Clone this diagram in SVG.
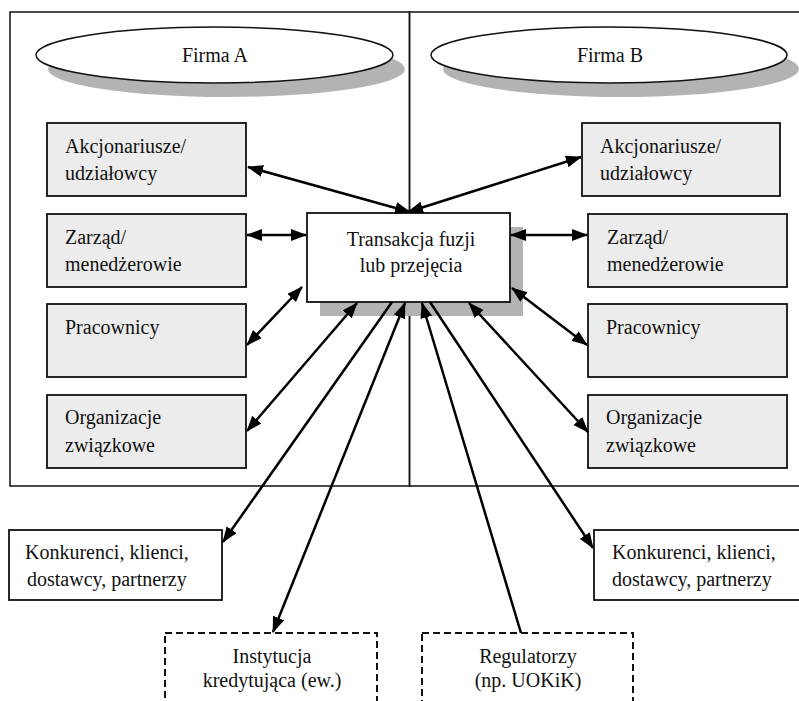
<svg xmlns="http://www.w3.org/2000/svg" width="799" height="701" viewBox="0 0 799 701">
<defs>
<style>
text{font-family:"Liberation Serif","Times New Roman",serif;font-size:20px;fill:#111}
.frame{fill:none;stroke:#111;stroke-width:1.5}
.box{fill:#ececec;stroke:#111;stroke-width:1.8}
.wbox{fill:#fff;stroke:#111;stroke-width:1.8}
.dbox{fill:#fff;stroke:#111;stroke-width:2;stroke-dasharray:7 4}
.shadow{fill:#b3b3b3}
.ell{fill:#fff;stroke:#111;stroke-width:1.5}
.c{text-anchor:middle}
.con line{stroke:#000;stroke-width:2.5}
</style>
<marker id="ah" markerUnits="userSpaceOnUse" markerWidth="18" markerHeight="14" refX="15" refY="6" orient="auto-start-reverse">
<path d="M0,0 L16,6 L0,12 z" fill="#000"/>
</marker>
</defs>
<rect width="799" height="701" fill="#fff"/>

<g id="firmaA-frame"><rect class="frame" x="10" y="12" width="399.5" height="474"/></g>
<g id="firmaB-frame"><rect class="frame" x="409.5" y="12" width="420" height="474"/></g>

<g id="firmaA">
<ellipse class="shadow" cx="226.5" cy="69" rx="178.5" ry="28"/>
<ellipse class="ell" cx="214.5" cy="55" rx="178.5" ry="28"/>
<text class="c" x="215" y="62">Firma A</text>
</g>
<g id="firmaB">
<ellipse class="shadow" cx="621" cy="69" rx="178" ry="28"/>
<ellipse class="ell" cx="609" cy="55" rx="178" ry="28"/>
<text class="c" x="610" y="62">Firma B</text>
</g>

<g id="akcA"><rect class="box" x="47" y="123" width="199" height="73"/>
<text x="65" y="153">Akcjonariusze/</text><text x="65" y="180">udziałowcy</text></g>
<g id="zarA"><rect class="box" x="47" y="214" width="199" height="73"/>
<text x="65" y="244">Zarząd/</text><text x="65" y="271">menedżerowie</text></g>
<g id="pracA"><rect class="box" x="47" y="304" width="199" height="73"/>
<text x="65" y="334">Pracownicy</text></g>
<g id="orgA"><rect class="box" x="47" y="395" width="199" height="73"/>
<text x="65" y="424">Organizacje</text><text x="65" y="452">związkowe</text></g>

<g id="akcB"><rect class="box" x="582" y="123" width="198" height="73"/>
<text x="600" y="153">Akcjonariusze/</text><text x="600" y="180">udziałowcy</text></g>
<g id="zarB"><rect class="box" x="588" y="214" width="199" height="73"/>
<text x="607" y="244">Zarząd/</text><text x="607" y="271">menedżerowie</text></g>
<g id="pracB"><rect class="box" x="588" y="304" width="199" height="73"/>
<text x="606" y="334">Pracownicy</text></g>
<g id="orgB"><rect class="box" x="588" y="395" width="199" height="73"/>
<text x="606" y="424">Organizacje</text><text x="606" y="452">związkowe</text></g>

<g id="transakcja">
<rect class="shadow" x="320" y="227" width="203" height="89"/>
<rect class="wbox" x="307" y="213" width="203" height="89"/>
<text class="c" x="411" y="246">Transakcja fuzji</text>
<text class="c" x="411" y="272">lub przejęcia</text>
</g>

<g id="konA"><rect class="wbox" x="9" y="530" width="213" height="70"/>
<text x="25" y="559">Konkurenci, klienci,</text><text x="27" y="586">dostawcy, partnerzy</text></g>
<g id="konB"><rect class="wbox" x="594" y="530" width="230" height="70"/>
<text x="612" y="559">Konkurenci, klienci,</text><text x="612" y="586">dostawcy, partnerzy</text></g>

<g id="instytucja"><rect class="dbox" x="165" y="633" width="212" height="90"/>
<text class="c" x="272" y="663">Instytucja</text><text class="c" x="272" y="687">kredytująca (ew.)</text></g>
<g id="regulatorzy"><rect class="dbox" x="422" y="633" width="211" height="90"/>
<text class="c" x="528" y="663">Regulatorzy</text><text class="c" x="528" y="687">(np. UOKiK)</text></g>

<g id="connectors" class="con">
<line x1="248" y1="167" x2="410" y2="212" marker-start="url(#ah)" marker-end="url(#ah)"/>
<line x1="408" y1="212" x2="581" y2="157" marker-start="url(#ah)" marker-end="url(#ah)"/>
<line x1="247" y1="235" x2="306" y2="235" marker-start="url(#ah)" marker-end="url(#ah)"/>
<line x1="511" y1="235" x2="587" y2="235" marker-start="url(#ah)" marker-end="url(#ah)"/>
<line x1="247" y1="345" x2="302" y2="287" marker-start="url(#ah)" marker-end="url(#ah)"/>
<line x1="512" y1="288" x2="587" y2="345" marker-start="url(#ah)" marker-end="url(#ah)"/>
<line x1="247" y1="431" x2="357" y2="303" marker-start="url(#ah)" marker-end="url(#ah)"/>
<line x1="469" y1="303" x2="588" y2="432" marker-start="url(#ah)" marker-end="url(#ah)"/>
<line x1="392" y1="302" x2="223" y2="542" marker-end="url(#ah)"/>
<line x1="430" y1="302" x2="593" y2="548" marker-end="url(#ah)"/>
<line x1="405" y1="303" x2="273" y2="632" marker-start="url(#ah)" marker-end="url(#ah)"/>
<line x1="521" y1="633" x2="422" y2="303" marker-end="url(#ah)"/>
</g>
</svg>
